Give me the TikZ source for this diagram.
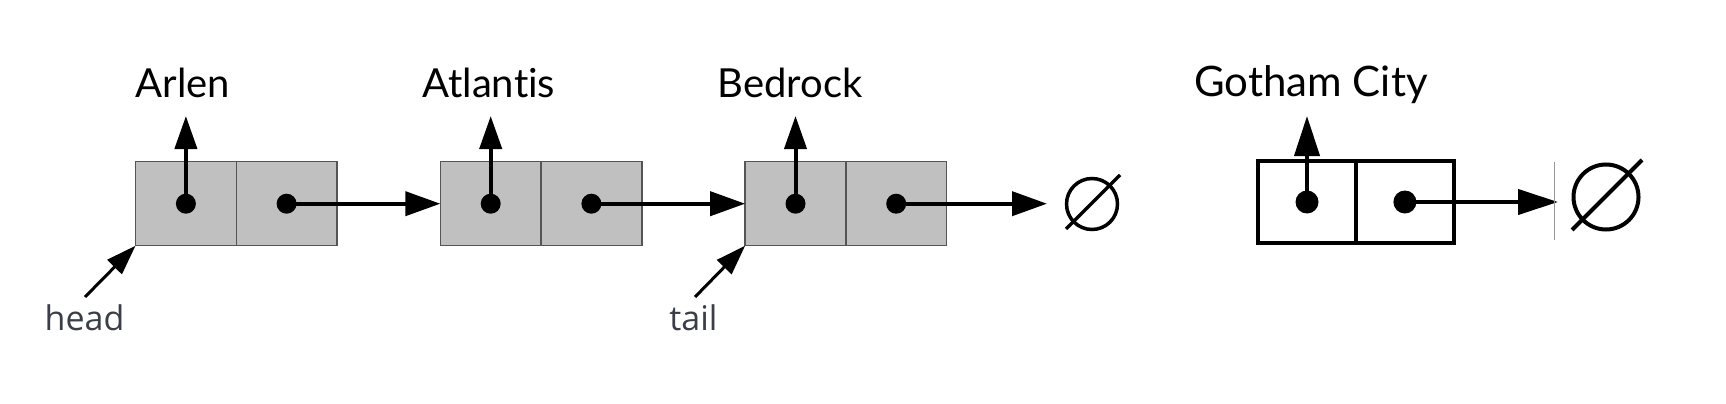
\documentclass[tikz,border=0pt]{standalone}
\usepackage{fontspec}
\setmainfont{Lato}[Ligatures=NoCommon]
\newfontfamily\tagfont{Open Sans}
\usetikzlibrary{arrows.meta}
\definecolor{cellgray}{RGB}{192,192,192}
\definecolor{cellborder}{RGB}{85,85,85}
\definecolor{taggray}{RGB}{58,62,72}
\definecolor{thingray}{RGB}{150,150,150}
\begin{document}
\begin{tikzpicture}[x=1pt,y=-1pt,
  cell/.style={draw=cellborder, line width=1.5pt, fill=cellgray,
    minimum width=100.7pt, minimum height=84pt, inner sep=0pt, outer sep=0pt},
  wcell/.style={draw=black, line width=4pt, fill=white,
    minimum width=97.9pt, minimum height=82pt, inner sep=0pt, outer sep=0pt},
  gdot/.style={circle, fill=black, minimum size=20pt, inner sep=0pt},
  wdot/.style={circle, fill=black, minimum size=23pt, inner sep=0pt},
  gptr/.style={line width=4pt, -{Triangle[length=33pt,width=22pt]}},
  hptr/.style={line width=4pt, -{Triangle[length=35pt,width=24pt]}},
  wptr/.style={line width=4pt, -{Triangle[length=40pt,width=25pt]}},
  tagptr/.style={line width=3pt, -{Triangle[length=30pt,width=20pt]}},
  lbl/.style={anchor=base, inner sep=0pt, font=\fontsize{40}{46}\selectfont},
  biglbl/.style={anchor=base, inner sep=0pt, font=\fontsize{42}{48}\selectfont},
  tag/.style={anchor=base, inner sep=0pt, text=taggray, font=\tagfont\fontsize{34}{40}\selectfont},
  nilc/.style={circle, draw=black, line width=3.5pt, inner sep=0pt, outer sep=0pt}
]
\useasboundingbox (0,0) rectangle (1726,404);

% gray list cells
\node[cell] (a1) at (185.9,203.7) {};
\node[cell] (a2) at (286.6,203.7) {};
\node[cell] (b1) at (490.7,203.7) {};
\node[cell] (b2) at (591.4,203.7) {};
\node[cell] (c1) at (795.5,203.7) {};
\node[cell] (c2) at (896.2,203.7) {};

% dots
\node[gdot] (da1) at (a1.center) {};
\node[gdot] (da2) at (a2.center) {};
\node[gdot] (db1) at (b1.center) {};
\node[gdot] (db2) at (b2.center) {};
\node[gdot] (dc1) at (c1.center) {};
\node[gdot] (dc2) at (c2.center) {};

% labels
\node[lbl] (arlen) at (183,97) {Arlen};
\node[lbl] (atlantis) at (488.8,97) {Atlantis};
\node[lbl] (bedrock) at (790,97) {Bedrock};

\coordinate (ua1) at (185.9,116);
\coordinate (ub1) at (490.7,116);
\coordinate (uc1) at (795.5,116);
\draw[gptr] (a1.center) -- (ua1);
\draw[gptr] (b1.center) -- (ub1);
\draw[gptr] (c1.center) -- (uc1);

% next pointers
\draw[hptr] (a2.center) -- (b1.west);
\draw[hptr] (b2.center) -- (c1.west);
\coordinate (nil1tip) at (1047,203.7);
\draw[hptr] (c2.center) -- (nil1tip);

% empty set 1
\node[nilc, minimum size=51pt] (nil1) at (1092,204) {};
\coordinate (s1a) at (1066,229);
\coordinate (s1b) at (1120,175);
\draw[line width=3.5pt] (s1a) -- (s1b);

% head / tail
\node[tag] (head) at (84.5,330) {head};
\node[tag] (tail) at (693.5,330) {tail};
\coordinate (hs) at (85,297);
\coordinate (ts) at (695,297);
\draw[tagptr] (hs) -- (a1.south west);
\draw[tagptr] (ts) -- (c1.south west);

% white node
\node[wcell] (g1) at (1307,202) {};
\node[wcell] (g2) at (1404.9,202) {};
\node[wdot] (dg1) at (g1.center) {};
\node[wdot] (dg2) at (g2.center) {};
\node[biglbl] (gotham) at (1311,96) {Gotham City};
\coordinate (ug1) at (1307,116);
\draw[wptr] (g1.center) -- (ug1);
\coordinate (nil2tip) at (1558,202);
\draw[wptr] (g2.center) -- (nil2tip);
\coordinate (gl1) at (1554,162);
\coordinate (gl2) at (1554,240);
\draw[thingray, line width=1pt] (gl1) -- (gl2);

% empty set 2
\node[nilc, minimum size=65pt, line width=4pt] (nil2) at (1606,197) {};
\coordinate (s2a) at (1572,230);
\coordinate (s2b) at (1642,160);
\draw[line width=4pt] (s2a) -- (s2b);
\end{tikzpicture}
\end{document}
